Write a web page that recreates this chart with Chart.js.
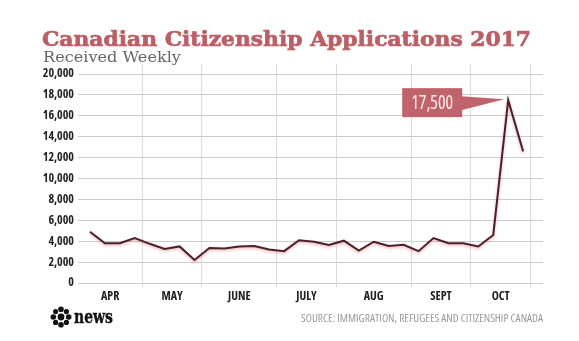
<!DOCTYPE html>
<html><head><meta charset="utf-8">
<script src="https://cdn.jsdelivr.net/npm/chart.js@4.4.1/dist/chart.umd.min.js"></script>
<style>
html,body{margin:0;padding:0;background:#fff;}
#wrap{position:relative;width:579px;height:341px;overflow:hidden;background:#fff;}
#c{position:absolute;left:0;top:0;}
.t{position:absolute;white-space:nowrap;line-height:1;transform-origin:0 0;}
#title{top:28px;font-family:'DejaVu Serif',serif;font-weight:bold;font-size:21px;color:#bb5f66;-webkit-text-stroke:0.7px #bb5f66;}
#sub{top:50px;font-family:'DejaVu Serif',serif;font-size:15.5px;color:#666;}
#src{top:312px;font-family:'Open Sans','DejaVu Sans Condensed',sans-serif;font-stretch:75%;font-size:11px;color:#9a9a9a;}
#news{top:308px;font-family:'DejaVu Serif',serif;font-weight:bold;font-size:18px;color:#111;-webkit-text-stroke:0.4px #111;}
#gem{position:absolute;left:49px;top:305px;}
</style></head><body>
<div id="wrap">
<canvas id="c" width="579" height="341"></canvas>
<div class="t" id="title">Canadian Citizenship Applications 2017</div>
<div class="t" id="sub">Received Weekly</div>
<svg id="gem" width="24" height="24" viewBox="0 0 24 24">
  <g fill="#111">
    <circle cx="12" cy="12" r="3.4"/>
    <circle cx="12" cy="4.3" r="2.8"/><circle cx="12" cy="19.7" r="2.8"/>
    <circle cx="4.3" cy="12" r="2.8"/><circle cx="19.7" cy="12" r="2.8"/>
    <circle cx="6.6" cy="6.6" r="2.6"/><circle cx="17.4" cy="6.6" r="2.6"/>
    <circle cx="6.6" cy="17.4" r="2.6"/><circle cx="17.4" cy="17.4" r="2.6"/>
  </g>
</svg>
<div class="t" id="news">news</div>
<div class="t" id="src">SOURCE: IMMIGRATION, REFUGEES AND CITIZENSHIP CANADA</div>
</div>
<script>
// ---- data ----
const weeklyApplications = [4900, 3800, 3800, 4300, 3750, 3250, 3500, 2200, 3350, 3300,
  3500, 3550, 3200, 3050, 4100, 3950, 3650, 4050, 3100, 3950,
  3550, 3650, 3050, 4300, 3800, 3800, 3500, 4600, 17500, 12600];
const monthLabels = ['APR', 'MAY', 'JUNE', 'JULY', 'AUG', 'SEPT', 'OCT'];
const weeksPerMonth = [4, 4, 5, 4, 5, 4, 4];
const yTickValues = [0, 2000, 4000, 6000, 8000, 10000, 12000, 14000, 16000, 18000, 20000];
const calloutText = '17,500';

// ---- derived axis helpers ----
const X_MIN = -0.8, X_MAX = 30.33, Y_MAX = 20960;
const boundaries = [];
let cum = 0;
weeksPerMonth.forEach(n => { cum += n; boundaries.push(cum - 0.5); });
const centers = boundaries.map((b, i) => ((i === 0 ? X_MIN : boundaries[i - 1]) + b) / 2);
const isBoundary = v => boundaries.some(b => Math.abs(b - v) < 1e-6);
const labelAt = v => { const i = centers.findIndex(c => Math.abs(c - v) < 1e-6); return i >= 0 ? monthLabels[i] : ''; };
const points = weeklyApplications.map((v, i) => ({ x: i, y: v }));
const peakIndex = weeklyApplications.indexOf(Math.max(...weeklyApplications));

const condensed = "'Open Sans','DejaVu Sans Condensed',sans-serif";

const shadowPlugin = {
  id: 'lineShadow',
  beforeDatasetDraw(chart) {
    const ctx = chart.ctx; ctx.save();
    ctx.shadowColor = 'rgba(215,110,120,0.55)'; ctx.shadowBlur = 3; ctx.shadowOffsetY = 1.5;
  },
  afterDatasetDraw(chart) { chart.ctx.restore(); }
};

const calloutPlugin = {
  id: 'callout',
  beforeDatasetsDraw(chart) {
    const pt = chart.getDatasetMeta(0).data[peakIndex];
    const ctx = chart.ctx;
    const bw = 60, bh = 29;
    const right = pt.x - 46, top = pt.y - 12;
    ctx.save();
    ctx.fillStyle = '#c0636b';
    ctx.fillRect(right - bw, top, bw, bh);
    ctx.beginPath();
    ctx.moveTo(right - 1, top + 8);
    ctx.lineTo(pt.x - 4, pt.y - 1);
    ctx.lineTo(right - 1, top + 22);
    ctx.closePath();
    ctx.fill();
    ctx.fillStyle = '#fbeeee';
    ctx.font = 'condensed 19px ' + condensed;
    ctx.textAlign = 'center';
    ctx.textBaseline = 'middle';
    const w = ctx.measureText(calloutText).width;
    const sx = Math.min(1, 42 / w);
    ctx.translate(right - bw / 2, top + bh / 2 + 1);
    ctx.scale(sx, 1);
    ctx.fillText(calloutText, 0, 0);
    ctx.restore();
  }
};

new Chart(document.getElementById('c'), {
  type: 'line',
  data: {
    datasets: [{
      data: points,
      borderColor: '#4d2029',
      borderWidth: 2,
      pointRadius: 0,
      tension: 0,
      fill: false
    }]
  },
  options: {
    responsive: false,
    animation: false,
    layout: { padding: { left: 0, right: 36, top: 64, bottom: 0 } },
    plugins: { legend: { display: false }, tooltip: { enabled: false }, title: { display: false } },
    scales: {
      x: {
        type: 'linear', min: X_MIN, max: X_MAX,
        afterBuildTicks(s) {
          s.ticks = boundaries.concat(centers).sort((a, b) => a - b).map(v => ({ value: v }));
        },
        afterFit(s) { s.height = 58; s.paddingLeft = 0; s.paddingRight = 0; },
        grid: {
          color: c => (c.tick && isBoundary(c.tick.value)) ? '#dcdcdc' : 'rgba(0,0,0,0)',
          tickColor: c => (c.tick && isBoundary(c.tick.value)) ? '#dcdcdc' : 'rgba(0,0,0,0)',
          tickLength: 4, drawTicks: true, lineWidth: 1
        },
        border: { display: false },
        ticks: {
          autoSkip: false, maxRotation: 0, minRotation: 0, padding: 2,
          color: '#222', font: { family: condensed, weight: 'bold condensed', size: 12 },
          callback: v => labelAt(v)
        }
      },
      y: {
        min: 0, max: Y_MAX,
        afterBuildTicks(s) { s.ticks = yTickValues.map(v => ({ value: v })); },
        afterFit(s) { s.width = 78; s.paddingTop = 0; s.paddingBottom = 0; },
        grid: { color: '#cccccc', drawTicks: false, lineWidth: 1 },
        border: { display: false },
        ticks: {
          padding: 4, color: '#222', font: { family: condensed, weight: 'bold condensed', size: 12 },
          callback: v => v.toLocaleString('en-US')
        }
      }
    }
  },
  plugins: [calloutPlugin, shadowPlugin]
});

function fit(id, left, right) {
  const el = document.getElementById(id);
  el.style.left = left + 'px';
  const w = el.getBoundingClientRect().width;
  el.style.transform = 'scaleX(' + ((right - left) / w) + ')';
}
fit('title', 42, 531);
fit('sub', 43, 181);
fit('news', 74, 113);
fit('src', 301, 543);
</script>
</body></html>
